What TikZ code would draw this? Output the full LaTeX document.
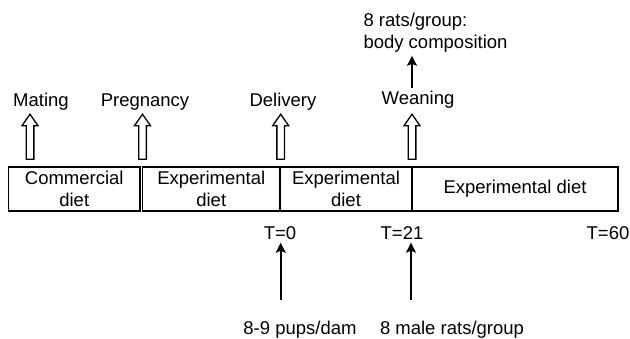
\documentclass[tikz,border=0pt]{standalone}
\usepackage{fontspec}
\setmainfont{Liberation Sans}
\usepackage{tikz}
\usetikzlibrary{positioning,arrows.meta,shapes.arrows}
\tikzset{
  dietbox/.style={draw, line width=1.6pt, minimum height=44pt, inner sep=0pt, align=center},
  openarrow/.style={draw, line width=1.3pt, single arrow, shape border rotate=90, minimum height=45pt, inner sep=3.2pt, single arrow head extend=4.2pt, single arrow tip angle=70, single arrow head indent=0pt},
  thinarrow/.style={-{Stealth[length=10pt, width=10pt, inset=2pt]}, line width=1.6pt},
  lbl/.style={inner sep=3pt, align=center},
  notelbl/.style={inner sep=3pt, align=left}
}
\begin{document}
\begin{tikzpicture}[x=1pt, y=-1pt, every node/.style={font=\fontsize{18.5}{22}\selectfont}]
  \useasboundingbox (0,0) rectangle (630,338);
  % diet periods
  \node[dietbox, minimum width=131.5pt] (comm) at (74.25,189) {Commercial\\diet};
  \node[dietbox, minimum width=137.5pt] (exp1) at (211.25,189) {Experimental\\diet};
  \node[dietbox, minimum width=132pt] (exp2) at (346,189) {Experimental\\diet};
  \node[dietbox, minimum width=206pt] (exp3) at (515,189) {Experimental diet};
  % events
  \node[openarrow] (mArr) at (30,139.5) {};
  \node[openarrow] (pArr) at (142.5,139.5) {};
  \node[openarrow] (dArr) at (280.7,139.5) {};
  \node[openarrow] (wArr) at (412,139.5) {};
  \node[lbl] (mating) at (41,102) {Mating};
  \node[lbl] (preg) at (145,102) {Pregnancy};
  \node[lbl] (deliv) at (283,102) {Delivery};
  \node[lbl] (wean) at (418,100) {Weaning};
  \node[notelbl] (comp) at (435.5,33) {8 rats/group:\\body composition};
  \draw[thinarrow] (wean.north -| wArr.north) -- (comp.south -| wArr.north);
  % time points
  \node[lbl] (t0) at (280,233) {T=0};
  \node[lbl] (t21) at (402,233) {T=21};
  \node[lbl] (t60) at (608,233) {T=60};
  \node[lbl] (pups) at (300,330) {8-9 pups/dam};
  \node[lbl] (males) at (452,330) {8 male rats/group};
  \draw[thinarrow, shorten <=18pt] (pups.north -| dArr.south) -- (t0.south -| dArr.south);
  \draw[thinarrow, shorten <=18pt] (males.north -| 411,0) -- (t21.south -| 411,0);
\end{tikzpicture}
\end{document}
